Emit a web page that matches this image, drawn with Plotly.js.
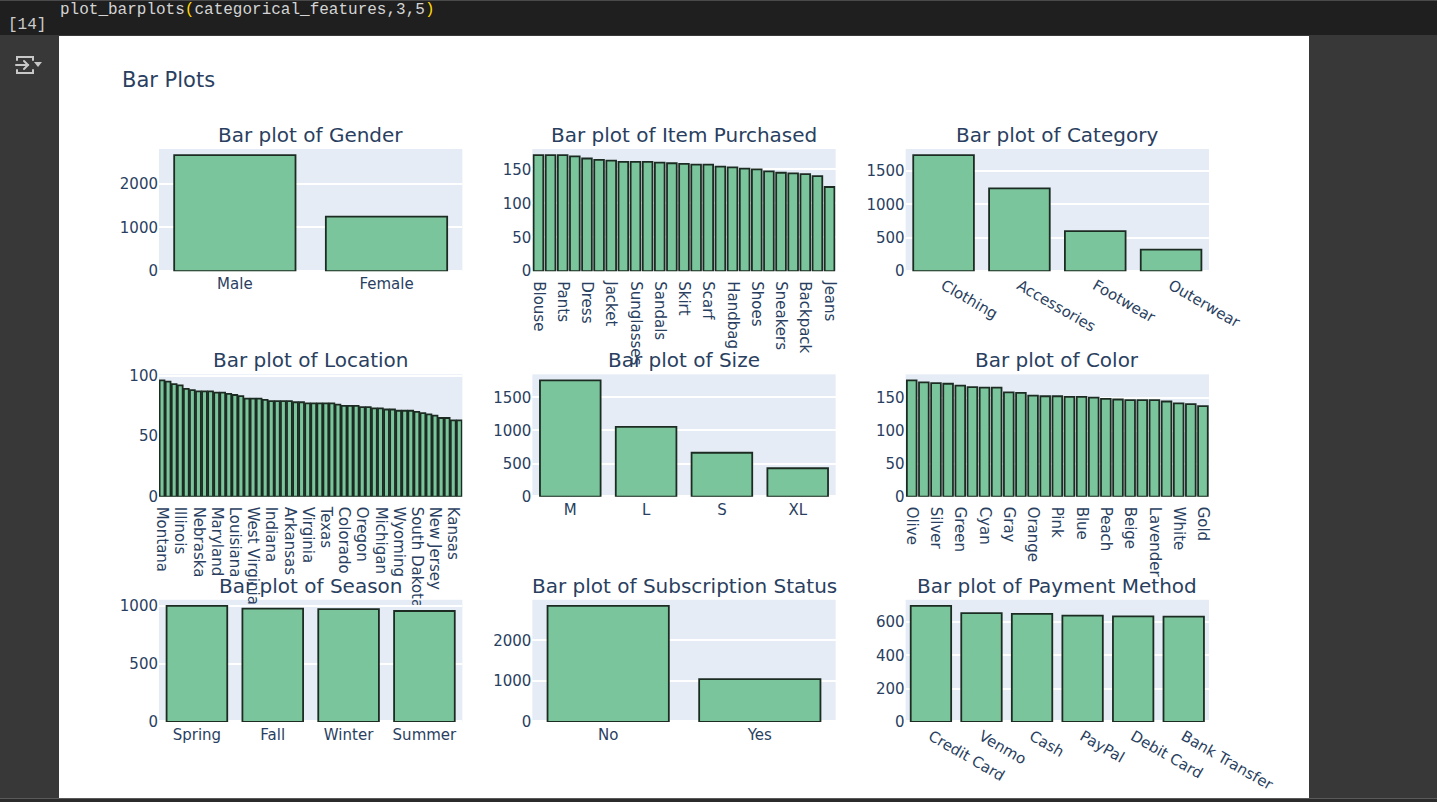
<!DOCTYPE html>
<html>
<head>
<meta charset="utf-8">
<script src="https://cdn.plot.ly/plotly-3.0.1.min.js"></script>
<style>
  html, body { margin: 0; padding: 0; width: 1437px; height: 802px; overflow: hidden; background: #383838; }
  #topbar { position: absolute; left: 0; top: 0; width: 1437px; height: 35px; background: #1f1f1f; border-top: 1px solid #4a4a4a; box-sizing: border-box; }
  #code { position: absolute; left: 60px; top: 0px; line-height: 18px; font-family: "Liberation Mono", "DejaVu Sans Mono", monospace; font-size: 16px; color: #d4d4d4; white-space: pre; }
  #code .paren { color: #ffd700; }
  #count { position: absolute; left: 8px; top: 15px; font-family: "Liberation Mono", "DejaVu Sans Mono", monospace; font-size: 16px; color: #cccccc; }
  #icon { position: absolute; left: 15px; top: 54px; }
  #out { position: absolute; left: 59px; top: 36px; width: 1250px; height: 762px; background: #ffffff; overflow: hidden; }
  #bottomline { position: absolute; left: 0; top: 798px; width: 1437px; height: 4px; background: #2b2b2b; border-top: 1px solid #5a5a5a; box-sizing: border-box; }
</style>
</head>
<body>
<div id="topbar">
  <div id="code">plot_barplots<span class="paren">(</span>categorical_features,3,5<span class="paren">)</span></div>
  <div id="count">[14]</div>
</div>
<svg id="icon" width="28" height="22" viewBox="0 0 28 22">
  <g fill="none" stroke="#c8c8c8" stroke-width="2" stroke-linecap="round">
    <path d="M2 6 V3 H18 V6"/>
    <path d="M2 16 V19 H18 V16"/>
    <path d="M1 11 H13"/>
    <path d="M9 7 L13 11 L9 15"/>
  </g>
  <path d="M19 8 H27 L23 13 Z" fill="#c8c8c8"/>
</svg>
<div id="out"><div id="chart" style="width:1250px;height:762px;"></div></div>
<div id="bottomline"></div>

<script>
// Value counts for each categorical feature
const genderLabels = ["Male", "Female"];
const genderCounts = [2652, 1248];

const itemLabels = ["Blouse", "Jewelry", "Pants", "Shirt", "Dress", "Sweater", "Jacket", "Belt",
  "Sunglasses", "Coat", "Sandals", "Socks", "Skirt", "Shorts", "Scarf", "Hat", "Handbag",
  "Hoodie", "Shoes", "T-shirt", "Sneakers", "Boots", "Backpack", "Gloves", "Jeans"];
const itemCounts = [171, 171, 171, 169, 166, 164, 163, 161, 161, 161, 160, 159, 158, 157, 157,
  154, 153, 151, 150, 147, 145, 144, 143, 140, 124];

const categoryLabels = ["Clothing", "Accessories", "Footwear", "Outerwear"];
const categoryCounts = [1737, 1240, 599, 324];

const locationLabels = ["Montana", "California", "Idaho", "Illinois", "Alabama", "Minnesota",
  "Nebraska", "New York", "Nevada", "Maryland", "Delaware", "Vermont", "Louisiana",
  "North Dakota", "Missouri", "West Virginia", "New Mexico", "Mississippi", "Indiana",
  "Georgia", "Kentucky", "Arkansas", "North Carolina", "Connecticut", "Virginia", "Ohio",
  "Tennessee", "Texas", "Maine", "South Carolina", "Colorado", "Oklahoma", "Wisconsin",
  "Oregon", "Pennsylvania", "Washington", "Michigan", "Alaska", "Massachusetts", "Wyoming",
  "Utah", "New Hampshire", "South Dakota", "Iowa", "Florida", "New Jersey", "Hawaii",
  "Arizona", "Kansas", "Rhode Island"];
const locationCounts = [96, 95, 93, 92, 89, 88, 87, 87, 87, 86, 86, 85, 84, 83, 81, 81, 81, 80,
  79, 79, 79, 79, 78, 78, 77, 77, 77, 77, 77, 76, 75, 75, 75, 74, 74, 73, 73, 72, 72, 71, 71,
  71, 70, 69, 68, 67, 65, 65, 63, 63];

const sizeLabels = ["M", "L", "S", "XL"];
const sizeCounts = [1755, 1053, 663, 429];

const colorLabels = ["Olive", "Yellow", "Silver", "Teal", "Green", "Black", "Cyan", "Violet",
  "Gray", "Maroon", "Orange", "Charcoal", "Pink", "Magenta", "Blue", "Purple", "Peach", "Red",
  "Beige", "Indigo", "Lavender", "Turquoise", "White", "Brown", "Gold"];
const colorCounts = [177, 174, 173, 172, 169, 167, 166, 166, 159, 158, 154, 153, 153, 152, 152,
  151, 149, 148, 147, 147, 147, 145, 142, 141, 138];

const seasonLabels = ["Spring", "Fall", "Winter", "Summer"];
const seasonCounts = [999, 975, 971, 955];

const subscriptionLabels = ["No", "Yes"];
const subscriptionCounts = [2847, 1053];

const paymentLabels = ["Credit Card", "Venmo", "Cash", "PayPal", "Debit Card", "Bank Transfer"];
const paymentCounts = [696, 653, 648, 638, 633, 632];

// Panel settings: title, data, tick spacing, label angle
const panels = [
  { name: "Gender", x: genderLabels, y: genderCounts, ydt: 1000, xdt: 1, ang: 0 },
  { name: "Item Purchased", x: itemLabels, y: itemCounts, ydt: 50, xdt: 2, ang: 90 },
  { name: "Category", x: categoryLabels, y: categoryCounts, ydt: 500, xdt: 1, ang: 30 },
  { name: "Location", x: locationLabels, y: locationCounts, ydt: 50, xdt: 3, ang: 90 },
  { name: "Size", x: sizeLabels, y: sizeCounts, ydt: 500, xdt: 1, ang: 0 },
  { name: "Color", x: colorLabels, y: colorCounts, ydt: 50, xdt: 2, ang: 90 },
  { name: "Season", x: seasonLabels, y: seasonCounts, ydt: 500, xdt: 1, ang: 0 },
  { name: "Subscription Status", x: subscriptionLabels, y: subscriptionCounts, ydt: 1000, xdt: 1, ang: 0 },
  { name: "Payment Method", x: paymentLabels, y: paymentCounts, ydt: 200, xdt: 1, ang: 30 }
];

const colDomains = [[0, 0.2889], [0.3556, 0.6444], [0.7111, 1]];
const rowDomains = [[0.7867, 1], [0.3933, 0.6067], [0, 0.2133]];

const textColor = "#2a3f5f";
const fontFamily = '"DejaVu Sans", Verdana, sans-serif';

const traces = [];
const annotations = [];
const layout = {
  width: 1250,
  height: 762,
  margin: { l: 100, r: 100, t: 113, b: 76, pad: 0 },
  paper_bgcolor: "#ffffff",
  plot_bgcolor: "#E5ECF6",
  showlegend: false,
  font: { family: fontFamily, color: textColor, size: 15 },
  bargap: 0.2,
  title: {
    text: "Bar Plots",
    x: 0.0504, xanchor: "left", xref: "container",
    y: 0.9425, yanchor: "middle", yref: "container",
    font: { size: 21, color: textColor, family: fontFamily }
  }
};

panels.forEach((p, i) => {
  const row = Math.floor(i / 3);
  const col = i % 3;
  const n = i + 1;
  const xa = n === 1 ? "x" : "x" + n;
  const ya = n === 1 ? "y" : "y" + n;
  traces.push({
    type: "bar",
    x: p.x,
    y: p.y,
    xaxis: xa,
    yaxis: ya,
    marker: { color: "#7ac59b", line: { color: "#1d2c23", width: 1.8 } },
    hoverinfo: "x+y"
  });
  const xKey = n === 1 ? "xaxis" : "xaxis" + n;
  const yKey = n === 1 ? "yaxis" : "yaxis" + n;
  layout[xKey] = {
    domain: colDomains[col],
    anchor: ya,
    type: "category",
    tickmode: "linear",
    tick0: 0,
    dtick: p.xdt,
    tickangle: p.ang,
    ticklabelstandoff: p.ang === 90 ? 9 : 2,
    showgrid: false,
    zeroline: false,
    showline: false,
    ticks: "",
    automargin: false,
    tickfont: { size: 15, color: textColor, family: fontFamily }
  };
  layout[yKey] = {
    domain: rowDomains[row],
    anchor: xa,
    rangemode: "tozero",
    tickmode: "linear",
    tick0: 0,
    dtick: p.ydt,
    gridcolor: "#ffffff",
    gridwidth: 1.5,
    zeroline: true,
    zerolinecolor: "#ffffff",
    zerolinewidth: 2.5,
    ticks: "",
    automargin: false,
    tickfont: { size: 15, color: textColor, family: fontFamily }
  };
  annotations.push({
    text: "Bar plot of " + p.name,
    xref: "paper", yref: "paper",
    x: (colDomains[col][0] + colDomains[col][1]) / 2,
    y: rowDomains[row][1],
    xanchor: "center", yanchor: "bottom",
    showarrow: false,
    font: { size: 20, color: textColor, family: fontFamily }
  });
});

layout.annotations = annotations;

Plotly.newPlot("chart", traces, layout, { displayModeBar: false, responsive: false });
</script>
</body>
</html>
